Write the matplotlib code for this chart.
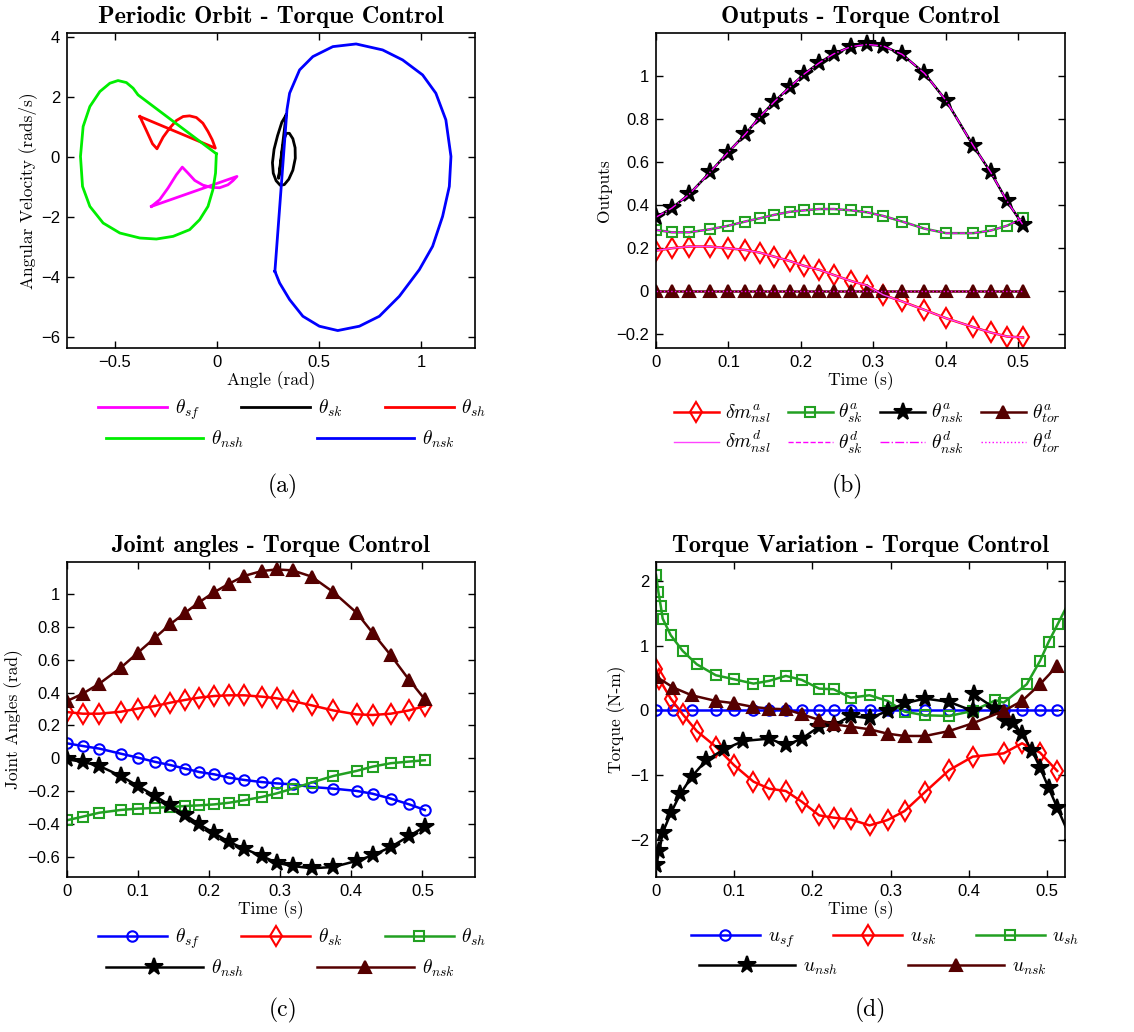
import matplotlib
matplotlib.use('Agg')
import numpy as np
from matplotlib import pyplot as plt
from matplotlib.ticker import FuncFormatter

plt.rcParams['mathtext.fontset'] = 'cm'
plt.rcParams['font.family'] = ['Liberation Sans', 'DejaVu Sans']

# ---------------- (a) periodic orbit: angle vs angular velocity ----------------
sf_ang = [-0.321, -0.281, -0.240, -0.199, -0.170, -0.142, -0.109, -0.069, -0.028, 0.013, 0.054, 0.078, 0.098, -0.321]
sf_vel = [-1.654, -1.432, -1.044, -0.601, -0.346, -0.545, -0.789, -0.945, -1.022, -1.033, -0.934, -0.800, -0.656, -1.654]

sk_ang = [0.339, 0.318, 0.297, 0.280, 0.272, 0.276, 0.290, 0.310, 0.330, 0.352, 0.372, 0.384, 0.383,
          0.372, 0.355, 0.340, 0.330, 0.320, 0.312, 0.305, 0.302, 0.339]
sk_vel = [1.39, 1.15, 0.70, 0.25, -0.20, -0.55, -0.80, -0.95, -0.93, -0.75, -0.45, -0.05, 0.30,
          0.60, 0.78, 0.78, 0.60, 0.20, -0.25, -0.60, -0.72, 1.39]

sh_ang = [-0.378, -0.346, -0.316, -0.294, -0.264, -0.232, -0.199, -0.166, -0.134, -0.101, -0.069, -0.044, -0.023, -0.008, -0.378]
sh_vel = [1.339, 0.874, 0.430, 0.264, 0.652, 0.951, 1.206, 1.339, 1.361, 1.306, 1.117, 0.840, 0.563, 0.286, 1.339]

nsh_ang = [-0.003, -0.387, -0.411, -0.444, -0.485, -0.525, -0.574, -0.623, -0.656, -0.669, -0.659, -0.623,
           -0.558, -0.476, -0.378, -0.297, -0.215, -0.134, -0.085, -0.044, -0.020, -0.007, -0.003]
nsh_vel = [0.098, 2.060, 2.282, 2.470, 2.537, 2.448, 2.171, 1.672, 1.007, 0.009, -0.989, -1.654,
           -2.208, -2.541, -2.707, -2.741, -2.652, -2.430, -2.098, -1.654, -1.100, -0.545, 0.098]

nsk_ang = [0.284, 0.343, 0.356, 0.405, 0.470, 0.568, 0.682, 0.812, 0.910, 1.008, 1.073, 1.122, 1.147,
           1.139, 1.106, 1.057, 0.992, 0.894, 0.796, 0.698, 0.592, 0.502, 0.421, 0.356, 0.307, 0.284]
nsk_vel = [-3.816, 1.561, 2.115, 2.891, 3.335, 3.667, 3.756, 3.557, 3.224, 2.725, 2.115, 1.228, 0.009,
           -0.989, -1.987, -2.984, -3.761, -4.647, -5.313, -5.645, -5.789, -5.645, -5.313, -4.758, -4.204, -3.816]

# ---------------- (b) outputs ----------------
t_b = [0, 0.0217, 0.0457, 0.0747, 0.0992, 0.1232, 0.1430, 0.1633, 0.1845, 0.2048, 0.2256,
       0.2454, 0.2694, 0.2915, 0.3137, 0.3400, 0.3708, 0.4008, 0.4382, 0.4622, 0.4852, 0.5069]
dm_nsl_a = [0.188, 0.199, 0.207, 0.207, 0.199, 0.191, 0.179, 0.160, 0.140, 0.117, 0.099,
            0.075, 0.047, 0.026, -0.017, -0.048, -0.087, -0.126, -0.167, -0.192, -0.211, -0.215]
th_sk_a = [0.284, 0.273, 0.273, 0.287, 0.303, 0.323, 0.338, 0.354, 0.368, 0.375, 0.381,
           0.381, 0.375, 0.366, 0.349, 0.323, 0.290, 0.269, 0.269, 0.281, 0.304, 0.338]
th_nsk_a = [0.343, 0.385, 0.449, 0.552, 0.643, 0.728, 0.807, 0.879, 0.946, 1.008, 1.060,
            1.101, 1.135, 1.145, 1.138, 1.099, 1.011, 0.884, 0.675, 0.552, 0.416, 0.307]
th_tor_a = [0.0] * 22
# desired outputs lie on top of the actual ones
dm_nsl_d = dm_nsl_a
th_sk_d = th_sk_a
th_nsk_d = th_nsk_a
th_tor_d = th_tor_a

# ---------------- (c) joint angles ----------------
t_c = [0, 0.0220, 0.0454, 0.0758, 0.0997, 0.1240, 0.1451, 0.1662, 0.1863, 0.2074, 0.2280,
       0.2491, 0.2739, 0.2949, 0.3174, 0.3441, 0.3745, 0.4073, 0.4298, 0.4555, 0.4813, 0.5033]
q_sf = [0.091, 0.075, 0.059, 0.028, 0.004, -0.022, -0.041, -0.063, -0.084, -0.098, -0.118,
        -0.132, -0.145, -0.153, -0.159, -0.175, -0.185, -0.199, -0.216, -0.246, -0.281, -0.315]
q_sk = [0.282, 0.272, 0.272, 0.284, 0.303, 0.319, 0.339, 0.356, 0.370, 0.380, 0.384,
        0.384, 0.376, 0.366, 0.349, 0.323, 0.292, 0.268, 0.264, 0.272, 0.292, 0.319]
q_sh = [-0.378, -0.356, -0.332, -0.315, -0.307, -0.303, -0.297, -0.291, -0.287, -0.281, -0.271,
        -0.256, -0.236, -0.214, -0.185, -0.148, -0.108, -0.077, -0.051, -0.030, -0.020, -0.012]
q_nsh = [-0.006, -0.022, -0.047, -0.108, -0.169, -0.230, -0.287, -0.346, -0.403, -0.458, -0.510,
         -0.551, -0.596, -0.637, -0.657, -0.671, -0.663, -0.626, -0.592, -0.541, -0.474, -0.417]
q_nsk = [0.349, 0.394, 0.455, 0.553, 0.644, 0.736, 0.817, 0.888, 0.953, 1.014, 1.065,
         1.112, 1.142, 1.152, 1.146, 1.108, 1.014, 0.888, 0.766, 0.628, 0.478, 0.360]

# ---------------- (d) torques ----------------
t_d = [0, 0.0222, 0.0456, 0.0764, 0.100, 0.1246, 0.1446, 0.166, 0.1864, 0.2086, 0.227,
       0.249, 0.273, 0.296, 0.3178, 0.344, 0.375, 0.405, 0.4445, 0.468, 0.491, 0.513]
u_sf = [0.0] * 22
u_nsk = [0.523, 0.353, 0.234, 0.147, 0.111, 0.054, 0.028, 0.018, -0.059, -0.147, -0.214,
         -0.250, -0.291, -0.358, -0.394, -0.394, -0.317, -0.198, -0.008, 0.147, 0.404, 0.687]
t_usk = [0, 0.0043, 0.0188, 0.0341, 0.052, 0.0764, 0.100, 0.1246, 0.1446, 0.166, 0.1864, 0.2086,
         0.227, 0.249, 0.273, 0.296, 0.3178, 0.344, 0.375, 0.405, 0.4445, 0.468, 0.491, 0.513]
u_sk = [0.636, 0.481, 0.183, -0.059, -0.317, -0.559, -0.847, -1.099, -1.207, -1.243, -1.408, -1.619,
        -1.655, -1.681, -1.774, -1.691, -1.552, -1.259, -0.919, -0.713, -0.662, -0.507, -0.651, -0.934]
t_ush = [0, 0.003, 0.006, 0.0085, 0.0188, 0.0341, 0.052, 0.0764, 0.100, 0.1246, 0.1446, 0.166, 0.1864,
         0.2086, 0.227, 0.249, 0.273, 0.296, 0.3178, 0.344, 0.375, 0.405, 0.434, 0.4445, 0.474, 0.491,
         0.502, 0.514, 0.533]
u_sh = [2.093, 1.830, 1.614, 1.418, 1.161, 0.919, 0.713, 0.543, 0.481, 0.414, 0.456, 0.533, 0.471,
        0.337, 0.327, 0.198, 0.234, 0.147, -0.018, -0.075, -0.085, -0.008, 0.157, 0.121, 0.404, 0.764,
        1.058, 1.341, 1.79]
t_unsh = [0, 0.0043, 0.0085, 0.0188, 0.0307, 0.0456, 0.064, 0.087, 0.1118, 0.145, 0.166, 0.1864,
          0.2086, 0.227, 0.249, 0.273, 0.296, 0.3178, 0.344, 0.375, 0.405, 0.406, 0.434, 0.448,
          0.457, 0.468, 0.481, 0.491, 0.502, 0.513, 0.533]
u_nsh = [-2.391, -2.170, -1.887, -1.588, -1.295, -1.022, -0.770, -0.600, -0.471, -0.435, -0.538, -0.435,
         -0.250, -0.229, -0.085, -0.121, -0.008, 0.111, 0.183, 0.131, -0.008, 0.250, 0.028, -0.162,
         -0.188, -0.368, -0.625, -0.883, -1.192, -1.501, -2.05]

BLUE = '#0000ff'
RED = '#ff0000'
GREEN = '#22a022'
DRED = '#550000'
MAG = '#ff00ff'
LEG_FS = 14


def tick_fmt(v, pos):
    v = round(v, 6) + 0.0
    return ('%g' % v).replace('-', '\u2212')


def style(ax, xlim, ylim, xt, yt):
    ax.set_xlim(*xlim)
    ax.set_ylim(*ylim)
    ax.set_xticks(xt)
    ax.set_yticks(yt)
    ax.xaxis.set_major_formatter(FuncFormatter(tick_fmt))
    ax.yaxis.set_major_formatter(FuncFormatter(tick_fmt))
    ax.tick_params(direction='in', top=True, right=True, length=5, width=1, labelsize=12, pad=5)
    for s in ax.spines.values():
        s.set_linewidth(1.2)


def title(ax, txt):
    ax.set_title(txt, fontfamily='cmb10', fontsize=17.5, pad=7)


def labels(ax, xl, yl):
    ax.set_xlabel(xl, fontfamily='cmr10', fontsize=12.5, labelpad=1)
    ax.set_ylabel(yl, fontfamily='cmr10', fontsize=12.5, labelpad=3)


def two_row_legend(ax, fig, hs, labs, xc1, xc2, y1, y2, hl1, hl2, cs1, cs2):
    leg1 = ax.legend(hs[:3], labs[:3], ncol=3, loc='center', bbox_to_anchor=(xc1 / 1134, 1 - y1 / 1032),
                     bbox_transform=fig.transFigure, frameon=False, handlelength=hl1,
                     handletextpad=0.4, columnspacing=cs1, fontsize=LEG_FS, borderpad=0, borderaxespad=0)
    ax.add_artist(leg1)
    ax.legend(hs[3:], labs[3:], ncol=2, loc='center', bbox_to_anchor=(xc2 / 1134, 1 - y2 / 1032),
              bbox_transform=fig.transFigure, frameon=False, handlelength=hl2,
              handletextpad=0.4, columnspacing=cs2, fontsize=LEG_FS, borderpad=0, borderaxespad=0)


fig = plt.figure(figsize=(11.34, 10.32), dpi=100)
axa = fig.add_axes([0.0591, 0.6628, 0.3598, 0.3052])
axb = fig.add_axes([0.5785, 0.6628, 0.3607, 0.3052])
axc = fig.add_axes([0.0591, 0.1502, 0.3598, 0.3052])
axd = fig.add_axes([0.5785, 0.1502, 0.3607, 0.3052])

# (a)
lw = 2.0
ha = [axa.plot(sf_ang, sf_vel, color=MAG, lw=lw)[0],
      axa.plot(sk_ang, sk_vel, color='k', lw=lw)[0],
      axa.plot(sh_ang, sh_vel, color=RED, lw=lw)[0],
      axa.plot(nsh_ang, nsh_vel, color='#00ee00', lw=lw)[0],
      axa.plot(nsk_ang, nsk_vel, color=BLUE, lw=lw)[0]]
style(axa, (-0.735, 1.265), (-6.37, 4.12), [-0.5, 0, 0.5, 1], [-6, -4, -2, 0, 2, 4])
title(axa, 'Periodic Orbit - Torque Control')
labels(axa, 'Angle (rad)', 'Angular Velocity (rads/s)')
lab_q = [r'$\theta_{sf}$', r'$\theta_{sk}$', r'$\theta_{sh}$', r'$\theta_{nsh}$', r'$\theta_{nsk}$']
two_row_legend(axa, fig, ha, lab_q, 292, 280, 410, 439, 3.55, 5.0, 2.15, 3.75)

# (b)
mk = dict(lw=1.8, mew=1.5)
b1 = axb.plot(t_b, dm_nsl_a, color=RED, marker='d', ms=10, mfc='none', **mk)[0]
b2 = axb.plot(t_b, th_sk_a, color=GREEN, marker='s', ms=6.5, mfc='none', **mk)[0]
b3 = axb.plot(t_b, th_nsk_a, color='k', marker='*', ms=13, **mk)[0]
b4 = axb.plot(t_b, th_tor_a, color=DRED, marker='^', ms=9, **mk)[0]
d1 = axb.plot(t_b, dm_nsl_d, color='#ff44ff', lw=1.0, ls='-')[0]
d2 = axb.plot(t_b, th_sk_d, color=MAG, lw=1.0, ls='--')[0]
d3 = axb.plot(t_b, th_nsk_d, color=MAG, lw=1.0, ls='-.')[0]
d4 = axb.plot(t_b, th_tor_d, color=MAG, lw=1.0, ls=':')[0]
style(axb, (0, 0.565), (-0.264, 1.198), [0, 0.1, 0.2, 0.3, 0.4, 0.5], [-0.2, 0, 0.2, 0.4, 0.6, 0.8, 1])
title(axb, 'Outputs - Torque Control')
labels(axb, 'Time (s)', 'Outputs')
axb.legend([b1, d1, b2, d2, b3, d3, b4, d4],
           [r'$\delta m^a_{nsl}$', r'$\delta m^d_{nsl}$', r'$\theta^a_{sk}$', r'$\theta^d_{sk}$',
            r'$\theta^a_{nsk}$', r'$\theta^d_{nsk}$', r'$\theta^a_{tor}$', r'$\theta^d_{tor}$'],
           ncol=4, loc='center', bbox_to_anchor=(867 / 1134, 1 - 429 / 1032), bbox_transform=fig.transFigure,
           frameon=False, handlelength=2.3, handletextpad=0.3, columnspacing=0.9, fontsize=LEG_FS,
           labelspacing=0.2, borderpad=0, borderaxespad=0)

# (c)
hc = [axc.plot(t_c, q_sf, color=BLUE, marker='o', ms=7.5, mfc='none', **mk)[0],
      axc.plot(t_c, q_sk, color=RED, marker='d', ms=10, mfc='none', **mk)[0],
      axc.plot(t_c, q_sh, color=GREEN, marker='s', ms=6.5, mfc='none', **mk)[0],
      axc.plot(t_c, q_nsh, color='k', marker='*', ms=13, **mk)[0],
      axc.plot(t_c, q_nsk, color=DRED, marker='^', ms=9, **mk)[0]]
style(axc, (0, 0.574), (-0.724, 1.197), [0, 0.1, 0.2, 0.3, 0.4, 0.5],
      [-0.6, -0.4, -0.2, 0, 0.2, 0.4, 0.6, 0.8, 1])
title(axc, 'Joint angles - Torque Control')
labels(axc, 'Time (s)', 'Joint Angles (rad)')
two_row_legend(axc, fig, hc, lab_q, 292, 280, 939, 968, 3.55, 5.0, 2.15, 3.75)

# (d)
hd = [axd.plot(t_d, u_sf, color=BLUE, marker='o', ms=7.5, mfc='none', **mk)[0],
      axd.plot(t_usk, u_sk, color=RED, marker='d', ms=10, mfc='none', **mk)[0],
      axd.plot(t_ush, u_sh, color=GREEN, marker='s', ms=6.5, mfc='none', **mk)[0],
      axd.plot(t_unsh, u_nsh, color='k', marker='*', ms=13, **mk)[0],
      axd.plot(t_d, u_nsk, color=DRED, marker='^', ms=9, **mk)[0]]
style(axd, (0, 0.523), (-2.57, 2.29), [0, 0.1, 0.2, 0.3, 0.4, 0.5], [-2, -1, 0, 1, 2])
title(axd, 'Torque Variation - Torque Control')
labels(axd, 'Time (s)', 'Torque (N-m)')
lab_u = [r'$u_{sf}$', r'$u_{sk}$', r'$u_{sh}$', r'$u_{nsh}$', r'$u_{nsk}$']
two_row_legend(axd, fig, hd, lab_u, 885, 873, 939, 968, 3.55, 4.95, 2.0, 3.6)

for txt, x, y in [('(a)', 283, 486), ('(b)', 847, 486), ('(c)', 283, 1010), ('(d)', 870, 1010)]:
    fig.text(x / 1134, 1 - y / 1032, txt, fontfamily='cmr10', fontsize=17, ha='center', va='center')

fig.savefig('out.png', dpi=100)
